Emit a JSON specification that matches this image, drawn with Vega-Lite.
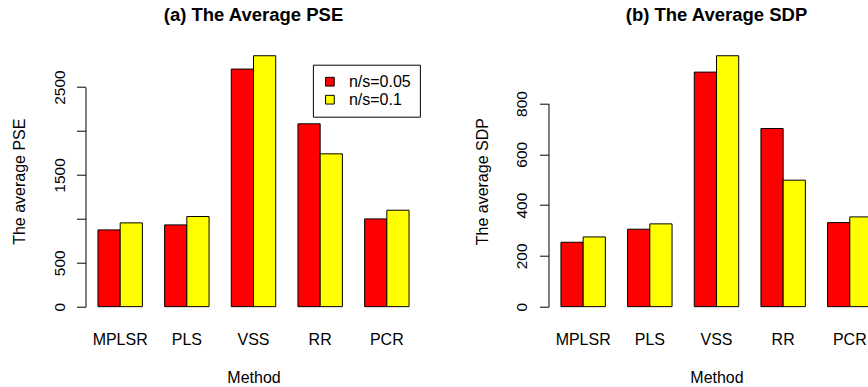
{
  "$schema": "https://vega.github.io/schema/vega-lite/v6.json",
  "background": "white",
  "padding": {"left": 10.5, "top": 5.7, "right": 0, "bottom": 0},
  "config": {
    "font": "Liberation Sans",
    "view": {"stroke": null},
    "axis": {"labelColor": "black", "titleColor": "black", "domainColor": "black", "tickColor": "black", "grid": false, "labelFontSize": 16, "titleFontSize": 16, "titleFontWeight": "normal"},
    "title": {"color": "black"}
  },
  "datasets": {
    "pse": [
      {"method": "MPLSR", "series": "n/s=0.05", "value": 874},
      {"method": "MPLSR", "series": "n/s=0.1", "value": 954},
      {"method": "PLS", "series": "n/s=0.05", "value": 931},
      {"method": "PLS", "series": "n/s=0.1", "value": 1026},
      {"method": "VSS", "series": "n/s=0.05", "value": 2705},
      {"method": "VSS", "series": "n/s=0.1", "value": 2857},
      {"method": "RR", "series": "n/s=0.05", "value": 2082},
      {"method": "RR", "series": "n/s=0.1", "value": 1740},
      {"method": "PCR", "series": "n/s=0.05", "value": 999},
      {"method": "PCR", "series": "n/s=0.1", "value": 1098}
    ],
    "sdp": [
      {"method": "MPLSR", "series": "n/s=0.05", "value": 253.5},
      {"method": "MPLSR", "series": "n/s=0.1", "value": 274.5},
      {"method": "PLS", "series": "n/s=0.05", "value": 305},
      {"method": "PLS", "series": "n/s=0.1", "value": 326},
      {"method": "VSS", "series": "n/s=0.05", "value": 923.5},
      {"method": "VSS", "series": "n/s=0.1", "value": 988},
      {"method": "RR", "series": "n/s=0.05", "value": 701.5},
      {"method": "RR", "series": "n/s=0.1", "value": 498},
      {"method": "PCR", "series": "n/s=0.05", "value": 331},
      {"method": "PCR", "series": "n/s=0.1", "value": 353.5}
    ]
  },
  "bounds": "flush",
  "spacing": 127,
  "resolve": {"scale": {"color": "independent", "x": "independent", "y": "independent"}, "legend": {"color": "independent"}},
  "hconcat": [
    {
      "width": 336,
      "height": 271,
      "title": {"text": "(a) The Average PSE", "fontSize": 18.5, "fontWeight": "bold", "anchor": "middle", "frame": "group", "baseline": "alphabetic", "offset": 6.5},
      "data": {"name": "pse"},
      "mark": {"type": "bar", "stroke": "black", "strokeWidth": 1},
      "encoding": {
        "x": {
          "field": "method", "type": "nominal", "sort": ["MPLSR", "PLS", "VSS", "RR", "PCR"],
          "scale": {"paddingInner": 0.33333, "paddingOuter": 0.18667},
          "axis": {"title": "Method", "labelAngle": 0, "ticks": false, "tickSize": 0, "domain": false, "labelPadding": 28, "labelBaseline": "alphabetic", "titleX": 168, "titleY": 65.7, "titleBaseline": "alphabetic", "titleAlign": "center"}
        },
        "xOffset": {"field": "series", "type": "nominal", "sort": ["n/s=0.05", "n/s=0.1"], "scale": {"paddingInner": 0, "paddingOuter": 0}},
        "y": {
          "field": "value", "type": "quantitative",
          "scale": {"domain": [-114.28, 2971.28], "zero": false, "nice": false},
          "axis": {"title": "The average PSE", "format": "d", "values": [0, 500, 1000, 1500, 2000, 2500], "labelExpr": "datum.value == 1000 || datum.value == 2000 ? '' : datum.label", "labelFontSize": 15.5, "tickSize": 9, "labelPadding": 12.5, "labelAngle": -90, "labelAlign": "center", "labelBaseline": "alphabetic", "labelFlush": false, "labelOverlap": false, "domainDash": [0, 10.04, 219.57, 2000], "titleX": -61, "titleY": 135.5, "titleAngle": -90, "titleAlign": "center", "titleBaseline": "alphabetic"}
        },
        "y2": {"datum": 0},
        "fill": {
          "field": "series", "type": "nominal",
          "scale": {"domain": ["n/s=0.05", "n/s=0.1"], "range": ["#FF0000", "#FFFF00"]},
          "legend": {"title": null, "orient": "none", "legendX": 227.4, "legendY": 19, "direction": "vertical", "symbolType": "square", "symbolSize": 76, "symbolStrokeColor": "black", "symbolStrokeWidth": 1, "labelFontSize": 16, "labelColor": "black", "labelOffset": 11, "rowPadding": 2, "padding": 9, "strokeColor": "black", "fillColor": "white"}
        }
      }
    },
    {
      "width": 336,
      "height": 271,
      "title": {"text": "(b) The Average SDP", "fontSize": 18.5, "fontWeight": "bold", "anchor": "middle", "frame": "group", "baseline": "alphabetic", "offset": 6.5},
      "data": {"name": "sdp"},
      "mark": {"type": "bar", "stroke": "black", "strokeWidth": 1},
      "encoding": {
        "x": {
          "field": "method", "type": "nominal", "sort": ["MPLSR", "PLS", "VSS", "RR", "PCR"],
          "scale": {"paddingInner": 0.33333, "paddingOuter": 0.18667},
          "axis": {"title": "Method", "labelAngle": 0, "ticks": false, "tickSize": 0, "domain": false, "labelPadding": 28, "labelBaseline": "alphabetic", "titleX": 168, "titleY": 65.7, "titleBaseline": "alphabetic", "titleAlign": "center"}
        },
        "xOffset": {"field": "series", "type": "nominal", "sort": ["n/s=0.05", "n/s=0.1"], "scale": {"paddingInner": 0, "paddingOuter": 0}},
        "y": {
          "field": "value", "type": "quantitative",
          "scale": {"domain": [-39.52, 1027.52], "zero": false, "nice": false},
          "axis": {"title": "The average SDP", "format": "d", "values": [0, 200, 400, 600, 800], "labelFontSize": 15.5, "tickSize": 9, "labelPadding": 12.5, "labelAngle": -90, "labelAlign": "center", "labelBaseline": "alphabetic", "labelFlush": false, "labelOverlap": false, "domainDash": [0, 10.04, 203.18, 2000], "titleX": -61, "titleY": 135.5, "titleAngle": -90, "titleAlign": "center", "titleBaseline": "alphabetic"}
        },
        "y2": {"datum": 0},
        "fill": {
          "field": "series", "type": "nominal",
          "scale": {"domain": ["n/s=0.05", "n/s=0.1"], "range": ["#FF0000", "#FFFF00"]},
          "legend": {"title": null, "orient": "none", "legendX": 227.4, "legendY": 19, "direction": "vertical", "symbolType": "square", "symbolSize": 76, "symbolStrokeColor": "black", "symbolStrokeWidth": 1, "labelFontSize": 16, "labelColor": "black", "labelOffset": 11, "rowPadding": 2, "padding": 9, "strokeColor": "black", "fillColor": "white"}
        }
      }
    }
  ]
}
